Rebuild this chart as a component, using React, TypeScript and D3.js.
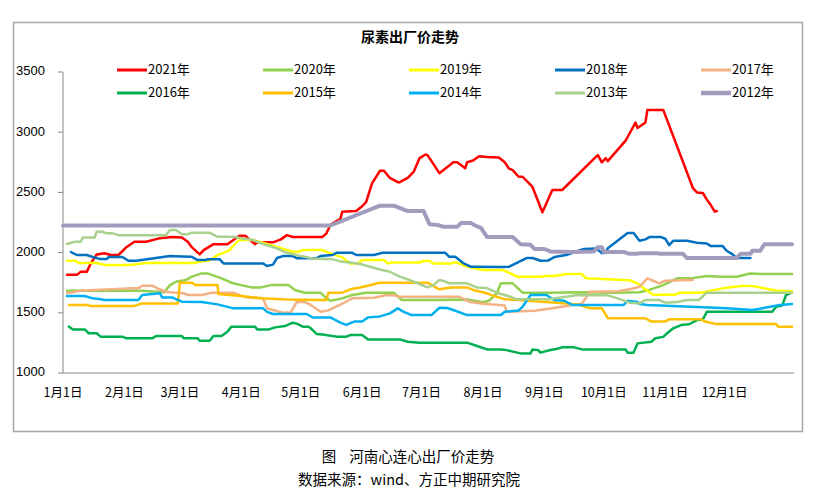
import React from "react";
import * as d3 from "d3";

// x: day of year (0 = 1月1日), y: 元/吨
const monthStartDays = [0, 31, 59, 90, 120, 151, 181, 212, 243, 273, 304, 334];
const monthLabels = ["1月1日", "2月1日", "3月1日", "4月1日", "5月1日", "6月1日", "7月1日", "8月1日", "9月1日", "10月1日", "11月1日", "12月1日"];
const yTicks = [1000, 1500, 2000, 2500, 3000, 3500];

const s2021: [number, number][] = [[2,1815],[7,1815],[9,1840],[12,1840],[14,1910],[17,1985],[21,1995],[24,1980],[28,1980],[32,2045],[36,2090],[42,2090],[49,2120],[55,2130],[60,2125],[63,2090],[65,2045],[69,1985],[71,2020],[76,2070],[83,2070],[86,2105],[89,2140],[92,2140],[94,2110],[97,2070],[98,2085],[106,2085],[110,2110],[113,2145],[116,2130],[131,2130],[133,2160],[135,2230],[140,2280],[141,2340],[148,2345],[151,2385],[153,2420],[156,2575],[160,2680],[162,2680],[165,2620],[169,2585],[170,2585],[174,2620],[177,2670],[180,2785],[183,2815],[184,2810],[190,2660],[194,2710],[197,2750],[199,2750],[203,2700],[204,2750],[207,2765],[210,2800],[214,2795],[220,2790],[223,2750],[225,2700],[227,2685],[230,2630],[232,2630],[237,2545],[242,2335],[247,2520],[252,2520],[269,2795],[270,2810],[272,2750],[274,2785],[275,2760],[284,2930],[285,2960],[289,3080],[290,3035],[294,3080],[295,3185],[303,3185],[318,2535],[320,2500],[323,2495],[325,2440],[327,2395],[329,2340],[330,2345]];

const s2020: [number, number][] = [[2,1683],[40,1683],[51,1670],[54,1730],[57,1758],[62,1772],[65,1800],[70,1827],[73,1827],[80,1786],[85,1750],[90,1730],[95,1711],[100,1711],[105,1730],[114,1730],[117,1689],[122,1667],[130,1667],[133,1620],[135,1600],[141,1620],[146,1648],[153,1667],[167,1667],[171,1606],[190,1606],[204,1610],[212,1587],[215,1600],[219,1662],[221,1745],[227,1745],[232,1667],[246,1667],[261,1670],[278,1667],[291,1670],[296,1690],[303,1730],[310,1786],[317,1786],[325,1805],[332,1800],[340,1800],[347,1827],[352,1822],[368,1822]];

const s2019: [number, number][] = [[2,1932],[6,1932],[8,1913],[17,1913],[21,1897],[34,1897],[42,1913],[66,1913],[69,1924],[74,1935],[78,1980],[81,1998],[84,2020],[88,2090],[89,2104],[96,2104],[103,2071],[110,2037],[116,2007],[119,2007],[121,2021],[131,2021],[134,2000],[138,1975],[141,1960],[145,1910],[149,1910],[151,1938],[162,1938],[164,1910],[166,1918],[180,1918],[182,1930],[185,1930],[187,1910],[196,1910],[198,1920],[200,1910],[204,1882],[212,1855],[222,1855],[226,1827],[229,1800],[241,1800],[244,1805],[248,1805],[254,1822],[262,1822],[264,1786],[286,1770],[290,1745],[293,1705],[298,1650],[309,1650],[311,1667],[322,1667],[333,1703],[342,1722],[348,1722],[355,1700],[360,1685],[368,1680]];

const s2018: [number, number][] = [[4,2005],[7,1980],[12,1980],[15,1963],[19,1946],[22,1946],[23,1963],[30,1963],[33,1932],[37,1932],[54,1971],[60,1968],[65,1965],[68,1938],[72,1938],[73,1945],[79,1945],[81,1910],[101,1910],[103,1888],[106,1900],[108,1955],[111,1971],[116,1971],[118,1954],[128,1954],[130,1971],[136,1980],[138,1998],[146,1998],[148,1980],[157,1980],[161,1998],[193,1998],[195,1965],[198,1965],[202,1913],[206,1882],[222,1880],[225,1882],[234,1955],[237,1955],[241,1932],[245,1935],[248,1963],[254,1980],[263,2030],[269,2035],[272,1996],[274,1996],[275,2037],[285,2162],[288,2162],[291,2098],[294,2110],[296,2129],[302,2129],[304,2115],[306,2062],[308,2098],[315,2098],[320,2082],[325,2075],[327,2054],[333,2054],[335,2015],[338,1985],[340,1955],[347,1955]];

const s2017: [number, number][] = [[2,1665],[5,1670],[8,1683],[38,1705],[40,1725],[45,1725],[48,1700],[52,1675],[56,1668],[61,1662],[63,1648],[70,1648],[75,1667],[86,1667],[92,1630],[101,1620],[103,1537],[106,1523],[111,1500],[115,1505],[118,1590],[122,1590],[125,1565],[130,1508],[134,1520],[136,1537],[143,1592],[146,1620],[157,1625],[163,1645],[167,1645],[170,1633],[200,1633],[205,1592],[212,1575],[220,1565],[223,1560],[224,1508],[238,1517],[247,1537],[262,1578],[266,1675],[280,1680],[286,1695],[291,1717],[295,1786],[298,1766],[301,1745],[304,1766],[318,1772]];

const s2016: [number, number][] = [[3,1385],[5,1362],[11,1362],[13,1330],[17,1330],[19,1302],[30,1302],[32,1288],[45,1288],[47,1307],[60,1307],[61,1288],[68,1288],[69,1268],[74,1268],[76,1307],[80,1307],[83,1343],[85,1385],[97,1385],[98,1362],[104,1362],[107,1379],[112,1390],[116,1418],[118,1410],[121,1385],[124,1385],[126,1357],[128,1324],[131,1320],[138,1302],[143,1302],[145,1315],[151,1315],[154,1279],[170,1279],[174,1260],[180,1252],[204,1252],[209,1224],[214,1196],[221,1196],[224,1190],[231,1163],[236,1163],[237,1196],[240,1190],[241,1169],[246,1191],[249,1200],[252,1213],[258,1213],[262,1196],[284,1196],[285,1169],[288,1169],[290,1246],[297,1260],[299,1288],[303,1300],[305,1330],[308,1371],[312,1398],[316,1405],[320,1440],[323,1445],[325,1508],[358,1508],[360,1550],[363,1560],[365,1648],[367,1662]];

const s2015: [number, number][] = [[3,1565],[12,1565],[14,1556],[36,1556],[40,1578],[58,1578],[59,1750],[65,1750],[67,1730],[78,1730],[78.5,1656],[90,1640],[100,1620],[113,1610],[130,1606],[133,1606],[134,1667],[141,1667],[145,1695],[150,1710],[160,1750],[184,1750],[187,1722],[190,1695],[196,1711],[204,1711],[207,1690],[213,1667],[218,1639],[223,1612],[230,1606],[254,1578],[260,1570],[266,1537],[272,1537],[275,1455],[294,1455],[297,1427],[304,1427],[306,1447],[322,1447],[324,1427],[330,1406],[360,1406],[361,1385],[368,1385]];

const s2014: [number, number][] = [[2,1639],[11,1639],[15,1620],[19,1612],[21,1606],[38,1606],[40,1648],[49,1662],[50,1628],[55,1628],[60,1592],[70,1590],[78,1570],[86,1537],[101,1537],[103,1508],[106,1490],[123,1490],[126,1462],[135,1462],[140,1418],[143,1400],[147,1427],[151,1427],[154,1462],[160,1470],[165,1495],[169,1537],[172,1508],[176,1481],[186,1481],[190,1542],[194,1540],[198,1517],[204,1481],[221,1481],[223,1508],[230,1520],[232,1550],[236,1648],[244,1648],[248,1606],[253,1600],[257,1565],[283,1565],[285,1600],[290,1590],[291,1573],[295,1565],[317,1550],[335,1537],[348,1523],[357,1550],[362,1565],[368,1573]];

const s2013: [number, number][] = [[2,2071],[6,2090],[9,2090],[10,2126],[16,2126],[17,2173],[20,2173],[22,2160],[25,2160],[28,2145],[52,2145],[54,2187],[57,2187],[60,2153],[63,2153],[65,2165],[74,2165],[78,2131],[86,2131],[90,2120],[96,2104],[101,2071],[108,2035],[113,1998],[120,1971],[126,1952],[136,1944],[141,1924],[146,1915],[150,1905],[155,1882],[160,1860],[165,1841],[170,1800],[175,1772],[180,1739],[184,1711],[187,1730],[190,1772],[193,1760],[195,1745],[204,1745],[209,1711],[214,1705],[219,1667],[226,1633],[229,1612],[245,1612],[260,1648],[275,1645],[280,1620],[286,1584],[291,1578],[294,1606],[301,1606],[304,1584],[310,1590],[315,1606],[321,1606],[325,1667],[368,1667]];

const s2012: [number, number][] = [[0,2225],[135,2225],[160,2390],[167,2390],[174,2345],[182,2345],[185,2235],[189,2230],[192,2215],[199,2215],[201,2245],[206,2245],[208,2225],[211,2205],[214,2130],[227,2130],[231,2070],[236,2065],[238,2030],[243,2030],[246,2010],[257,2005],[268,2010],[270,2045],[272,2045],[273,2005],[283,2005],[286,1990],[290,1990],[291,1995],[300,1995],[301,1990],[313,1990],[315,1955],[340,1955],[342,1990],[347,1990],[348,2015],[352,2015],[354,2070],[368,2070]];

const seriesNames = ["2021年", "2020年", "2019年", "2018年", "2017年", "2016年", "2015年", "2014年", "2013年", "2012年"];
const seriesData = [s2021, s2020, s2019, s2018, s2017, s2016, s2015, s2014, s2013, s2012];
const seriesColors = ["#FF0000", "#92D050", "#FFFF00", "#0070C0", "#F4B183", "#00B050", "#FFC000", "#00B0F0", "#A9D18E", "#A29BBD"];
const seriesWidths = [2.5, 2.5, 2.5, 2.5, 2.5, 2.5, 2.5, 2.5, 2.5, 4];

const W = 818;
const H = 493;
const plot = { left: 63, right: 794, top: 72, bottom: 373 };
const CJK = "'Noto Sans CJK SC', 'Noto Sans', sans-serif";

export default function App() {
  const x = d3.scaleLinear().domain([0, 369]).range([plot.left, plot.right]);
  const y = d3.scaleLinear().domain([1000, 3500]).range([plot.bottom, plot.top]);
  const line = d3
    .line<[number, number]>()
    .x((d) => x(d[0]))
    .y((d) => y(d[1]))
    .curve(d3.curveLinear);

  const legendCols = [117, 263, 409, 555, 701];
  const legendRows = [70, 93];

  return (
    <svg width={W} height={H} style={{ position: "absolute", left: 0, top: 0, background: "#fff" }}>
      <rect x={0} y={0} width={W} height={H} fill="#fff" />
      <rect x={13.5} y={22.5} width={789} height={409} fill="#fff" stroke="#A6A6A6" strokeWidth={1.5} />
      <text x={410} y={38} textAnchor="middle" dominantBaseline="middle" fontFamily={CJK} fontWeight="bold" fontSize={14} fill="#000">
        尿素出厂价走势
      </text>

      {/* y axis */}
      <line x1={plot.left} x2={plot.left} y1={plot.top} y2={plot.bottom} stroke="#888" strokeWidth={1} />
      {yTicks.map((t) => (
        <g key={t}>
          <line x1={plot.left - 5} x2={plot.left} y1={y(t)} y2={y(t)} stroke="#888" strokeWidth={1} />
          <text x={45} y={y(t)} textAnchor="end" dominantBaseline="middle" fontFamily="'Liberation Sans', Arial, sans-serif" fontSize={13} fill="#000">
            {t}
          </text>
        </g>
      ))}
      {/* x axis */}
      <line x1={plot.left} x2={plot.right} y1={plot.bottom} y2={plot.bottom} stroke="#888" strokeWidth={1} />
      {monthStartDays.map((d, i) => (
        <text key={d} x={x(d)} y={394} textAnchor="middle" dominantBaseline="middle" fontFamily={CJK} fontSize={12.5} fill="#000">
          {monthLabels[i]}
        </text>
      ))}

      {/* series */}
      {seriesData.map((s, i) => (
        <path key={seriesNames[i]} d={line(s) || ""} fill="none" stroke={seriesColors[i]} strokeWidth={seriesWidths[i]} strokeLinejoin="round" strokeLinecap="round" />
      ))}

      {/* legend */}
      {seriesNames.map((n, i) => {
        const lx = legendCols[i % 5];
        const ly = legendRows[Math.floor(i / 5)];
        return (
          <g key={n}>
            <line x1={lx} x2={lx + 30} y1={ly} y2={ly} stroke={seriesColors[i]} strokeWidth={seriesWidths[i] + 0.5} />
            <text x={lx + 31} y={ly} dominantBaseline="middle" fontFamily={CJK} fontSize={13} fill="#000">
              {n}
            </text>
          </g>
        );
      })}

      {/* captions */}
      <text x={408} y={458} textAnchor="middle" dominantBaseline="middle" fontFamily={CJK} fontSize={14.5} fill="#000">
        图{"\u00a0\u00a0\u00a0\u00a0"}河南心连心出厂价走势
      </text>
      <text x={409} y={481} textAnchor="middle" dominantBaseline="middle" fontFamily={CJK} fontSize={14.5} fill="#000">
        数据来源：wind、方正中期研究院
      </text>
    </svg>
  );
}
